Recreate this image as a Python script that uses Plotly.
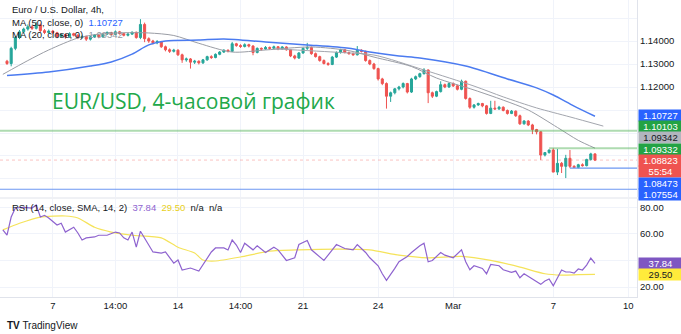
import plotly.graph_objects as go
from plotly.subplots import make_subplots

# ---------------- data ----------------
candle_idx = list(range(142))
opens = [1.1312,1.1302,1.1368,1.1415,1.1440,1.1452,1.1462,1.1455,1.1470,1.1445,
         1.1437,1.1443,1.1436,1.1420,1.1428,1.1418,1.1432,1.1425,1.1415,1.1420,
         1.1408,1.1418,1.1426,1.1418,1.1430,1.1437,1.1428,1.1440,1.1432,1.1425,
         1.1430,1.1438,1.1415,1.1472,1.1410,1.1400,1.1392,1.1398,1.1375,1.1362,
         1.1355,1.1360,1.1340,1.1318,1.1322,1.1308,1.1312,1.1305,1.1318,1.1332,
         1.1328,1.1342,1.1352,1.1360,1.1355,1.1388,1.1380,1.1376,1.1384,1.1378,
         1.1350,1.1368,1.1365,1.1372,1.1368,1.1375,1.1366,1.1374,1.1362,1.1335,
         1.1326,1.1348,1.1368,1.1372,1.1345,1.1332,1.1315,1.1302,1.1298,1.1330,
         1.1350,1.1362,1.1350,1.1345,1.1340,1.1360,1.1355,1.1315,1.1300,1.1280,
         1.1235,1.1215,1.1160,1.1175,1.1192,1.1200,1.1215,1.1178,1.1235,1.1245,
         1.1258,1.1274,1.1175,1.1160,1.1180,1.1210,1.1200,1.1215,1.1205,1.1190,
         1.1225,1.1150,1.1112,1.1122,1.1128,1.1118,1.1085,1.1108,1.1105,1.1112,
         1.1098,1.1085,1.1095,1.1075,1.1040,1.1052,1.1035,1.1015,1.1005,1.0904,
         1.0915,1.0926,1.0830,1.0868,1.0855,1.0890,1.0855,1.0850,1.0862,1.0858,
         1.0885,1.0909]
highs = [1.1318,1.1375,1.1422,1.1448,1.1458,1.1472,1.1468,1.1483,1.1476,1.1452,
         1.1450,1.1448,1.1440,1.1433,1.1432,1.1438,1.1436,1.1430,1.1424,1.1423,
         1.1422,1.1430,1.1429,1.1434,1.1442,1.1440,1.1446,1.1444,1.1436,1.1434,
         1.1442,1.1441,1.1495,1.1480,1.1416,1.1405,1.1404,1.1400,1.1380,1.1368,
         1.1366,1.1364,1.1345,1.1328,1.1326,1.1318,1.1316,1.1322,1.1336,1.1338,
         1.1346,1.1356,1.1364,1.1363,1.1396,1.1392,1.1386,1.1390,1.1388,1.1382,
         1.1372,1.1372,1.1378,1.1376,1.1380,1.1378,1.1378,1.1377,1.1365,1.1340,
         1.1352,1.1372,1.1392,1.1376,1.1350,1.1336,1.1320,1.1308,1.1335,1.1355,
         1.1366,1.1365,1.1354,1.1350,1.1378,1.1364,1.1358,1.1320,1.1305,1.1284,
         1.1240,1.1220,1.1180,1.1196,1.1205,1.1220,1.1218,1.1240,1.1250,1.1262,
         1.1282,1.1276,1.1180,1.1184,1.1225,1.1215,1.1220,1.1220,1.1210,1.1232,
         1.1228,1.1155,1.1126,1.1132,1.1131,1.1122,1.1140,1.1140,1.1118,1.1116,
         1.1102,1.1100,1.1098,1.1080,1.1056,1.1056,1.1040,1.1018,1.1008,1.0915,
         1.0928,1.09332,1.0930,1.0874,1.0905,1.0926,1.0860,1.0866,1.0868,1.0888,
         1.0914,1.0912]
lows = [1.1296,1.1290,1.1360,1.1408,1.1432,1.1445,1.1448,1.1450,1.1438,1.1430,
        1.1432,1.1430,1.1412,1.1415,1.1410,1.1414,1.1420,1.1408,1.1410,1.1400,
        1.1402,1.1414,1.1412,1.1415,1.1426,1.1424,1.1425,1.1428,1.1420,1.1420,
        1.1426,1.1410,1.1408,1.1395,1.1392,1.1385,1.1386,1.1370,1.1355,1.1348,
        1.1350,1.1335,1.1305,1.1310,1.1280,1.1300,1.1298,1.1300,1.1314,1.1322,
        1.1325,1.1338,1.1348,1.1350,1.1352,1.1375,1.1370,1.1372,1.1372,1.1338,
        1.1346,1.1358,1.1362,1.1362,1.1365,1.1360,1.1362,1.1358,1.1330,1.1320,
        1.1322,1.1344,1.1360,1.1340,1.1328,1.1310,1.1298,1.1292,1.1295,1.1326,
        1.1345,1.1346,1.1340,1.1336,1.1337,1.1350,1.1310,1.1295,1.1275,1.1228,
        1.1208,1.1106,1.1135,1.1168,1.1185,1.1194,1.1172,1.1174,1.1230,1.1240,
        1.1254,1.1130,1.1152,1.1156,1.1176,1.1195,1.1196,1.1200,1.1185,1.1186,
        1.1145,1.1105,1.1106,1.1118,1.1112,1.1080,1.1082,1.1100,1.1100,1.1094,
        1.1080,1.1082,1.1070,1.1035,1.1036,1.1030,1.0995,1.0994,1.0883,1.0898,
        1.0910,1.0912,1.0817,1.0826,1.0804,1.08473,1.0848,1.0846,1.0854,1.0855,
        1.0880,1.0878]
closes = [1.1302,1.1368,1.1415,1.1440,1.1452,1.1462,1.1455,1.1470,1.1445,1.1437,
          1.1443,1.1436,1.1420,1.1428,1.1418,1.1432,1.1425,1.1415,1.1420,1.1408,
          1.1418,1.1426,1.1418,1.1430,1.1437,1.1428,1.1440,1.1432,1.1425,1.1430,
          1.1438,1.1415,1.1472,1.1410,1.1400,1.1392,1.1398,1.1375,1.1362,1.1355,
          1.1360,1.1340,1.1318,1.1322,1.1308,1.1312,1.1305,1.1318,1.1332,1.1328,
          1.1342,1.1352,1.1360,1.1355,1.1388,1.1380,1.1376,1.1384,1.1378,1.1350,
          1.1368,1.1365,1.1372,1.1368,1.1375,1.1366,1.1374,1.1362,1.1335,1.1326,
          1.1348,1.1368,1.1372,1.1345,1.1332,1.1315,1.1302,1.1298,1.1330,1.1350,
          1.1362,1.1350,1.1345,1.1340,1.1360,1.1355,1.1315,1.1300,1.1280,1.1235,
          1.1215,1.1160,1.1175,1.1192,1.1200,1.1215,1.1178,1.1235,1.1245,1.1258,
          1.1274,1.1175,1.1160,1.1180,1.1210,1.1200,1.1215,1.1205,1.1190,1.1225,
          1.1150,1.1112,1.1122,1.1128,1.1118,1.1085,1.1108,1.1105,1.1112,1.1098,
          1.1085,1.1095,1.1075,1.1040,1.1052,1.1035,1.1015,1.1005,1.0904,1.0915,
          1.0926,1.0830,1.0868,1.0855,1.0890,1.0855,1.0850,1.0862,1.0858,1.0885,
          1.0909,1.08823]

ma50_idx = [0, 10, 20, 25, 30, 34, 38, 46, 52, 62, 72, 82, 87, 94, 99, 110, 120, 127, 131, 136, 141]
ma50_val = [1.1250, 1.1265, 1.1291, 1.1309, 1.1343, 1.1383, 1.1400, 1.1404, 1.1409, 1.1396,
            1.1383, 1.1368, 1.1352, 1.1335, 1.1326, 1.1291, 1.1235, 1.1196, 1.1165, 1.1117, 1.10727]

ma20_idx = [-1, 5, 10, 17, 22, 28, 34, 40, 46, 54, 62, 73, 82, 88, 97, 103, 112, 119, 125, 132, 137, 141]
ma20_val = [1.1255, 1.1315, 1.1361, 1.1413, 1.1430, 1.1436, 1.1435, 1.1424, 1.1390, 1.1352,
            1.1361, 1.1374, 1.1358, 1.1330, 1.1289, 1.1239, 1.1187, 1.1143, 1.1100, 1.1024,
            1.0968, 1.09342]

grey2_idx = [64, 80, 88, 100, 112, 119, 127, 135, 143]
grey2_val = [1.1366, 1.1350, 1.1339, 1.1274, 1.1204, 1.1157, 1.1109, 1.1070, 1.1030]

rsi_idx = [-1, 0, 1, 2, 4, 6, 7, 8, 9, 10, 12, 13, 14, 16, 17, 18, 19, 21, 22, 24,
           26, 27, 28, 29, 30, 31, 32, 33, 35, 37, 38, 40, 41, 42, 44, 46, 47, 49, 50, 52,
           53, 54, 55, 56, 57, 59, 60, 62, 64, 65, 67, 69, 70, 72, 73, 75, 76, 78, 79, 81,
           83, 84, 86, 87, 89, 90, 91, 93, 94, 96, 97, 99, 100, 101, 102, 104, 105, 107, 109, 110,
           111, 112, 114, 115, 116, 118, 119, 121, 122, 123, 124, 126, 128, 129, 130, 131, 132, 133, 134, 135,
           136, 137, 138, 139, 140, 141]
rsi_val = [63, 59, 72.7, 79.5, 80, 79.5, 81.8, 72.7, 74, 72, 66.7, 68, 61.4, 65, 60.7, 55.4, 57, 57.7, 59, 59,
           61.4, 60.7, 57, 55.4, 61.4, 50, 62, 57, 46.4, 45.6, 46.4, 38, 40.3, 32.8, 34.3, 32, 36.6, 46.4, 49.4, 49.4,
           47.9, 55.4, 51.6, 46, 53, 48, 51, 46, 50, 48, 40, 42, 52, 55, 48, 43, 40, 48, 52, 49,
           48, 52, 46, 42, 36, 30, 25, 34, 39, 43, 46, 51, 53, 39, 40, 46, 44, 42, 48, 39,
           33, 36, 34, 30, 37, 36, 33, 31, 32, 27, 30, 26, 22, 24.5, 26, 21, 26.8, 32.8, 31.3, 31.3,
           30.5, 33.6, 32.8, 36.5, 41.8, 37.84]

sma_idx = [-1, 3, 8, 14, 17, 21, 25, 30, 37, 41, 45, 47, 50, 56, 63, 70, 80, 87, 94, 101, 109, 116, 123, 129, 133, 137, 141]
sma_val = [63, 68, 72.7, 73.5, 72, 65, 61.4, 59, 57, 50, 45.6, 40.3, 39.6, 42.6, 47, 48, 48.5, 48, 44, 42, 43, 40, 35, 30, 29, 29.3, 29.5]

tick_idx = [11, 26, 41, 56, 71, 89, 107, 131, 149]
tick_text = ["7", "14:00", "14", "14:00", "21", "24", "Mar", "7", "10"]

price_grid = [1.08, 1.09, 1.10, 1.11, 1.12, 1.13, 1.14, 1.15]
price_text = ["", "", "", "", "1.12000", "1.13000", "1.14000", ""]
rsi_grid = [20, 40, 60, 80]
rsi_text = ["20.00", "", "60.00", "80.00"]

# drawn levels
level_full_green = 1.10103
level_full_blue = 1.07554
ray_green = (130, 1.09332)
ray_blue = (135, 1.08473)
last_price = 1.08823
countdown = "55:54"
ma50_last = 1.10727
ma20_last = 1.09342
rsi_last = 37.84
rsi_sma_last = 29.50

# ---------------- layout constants ----------------
W, H = 681, 334
PLOT_W, PLOT_H = 637, 297
X_MIN, X_MAX = -1.68, 151.08
Y_MIN, Y_MAX = 1.07217, 1.15783
R_MIN, R_MAX = 12.47, 86.29
FONT = "Liberation Sans"
TXT = "#131722"
GREEN_UP = "#26a69a"
RED_DN = "#ef5350"
BLUE = "#2962ff"
GRID = "#f0f3fa"

def px_x(p):
    return p / PLOT_W

def px_y(p):
    return (PLOT_H - p) / PLOT_H

fig = make_subplots(rows=2, cols=1, shared_xaxes=True, vertical_spacing=0.01)

fig.add_trace(go.Candlestick(
    x=candle_idx, open=opens, high=highs, low=lows, close=closes,
    increasing=dict(line=dict(color=GREEN_UP, width=1), fillcolor=GREEN_UP),
    decreasing=dict(line=dict(color=RED_DN, width=1), fillcolor=RED_DN),
    whiskerwidth=0, showlegend=False, hoverinfo="skip"), row=1, col=1)

fig.add_trace(go.Scatter(x=grey2_idx, y=grey2_val, mode="lines",
                         line=dict(color="#a3a6ae", width=1, shape="spline", smoothing=0.8),
                         showlegend=False, hoverinfo="skip"), row=1, col=1)
fig.add_trace(go.Scatter(x=ma20_idx, y=ma20_val, mode="lines",
                         line=dict(color="#9a9da5", width=1, shape="spline", smoothing=0.8),
                         showlegend=False, hoverinfo="skip"), row=1, col=1)
fig.add_trace(go.Scatter(x=ma50_idx, y=ma50_val, mode="lines",
                         line=dict(color="#4b7bf0", width=1.5, shape="spline", smoothing=0.8),
                         showlegend=False, hoverinfo="skip"), row=1, col=1)

# horizontal drawings
fig.add_trace(go.Scatter(x=[X_MIN, X_MAX], y=[level_full_green] * 2, mode="lines",
                         line=dict(color="rgba(76,175,80,0.45)", width=2),
                         showlegend=False, hoverinfo="skip"), row=1, col=1)
fig.add_trace(go.Scatter(x=[ray_green[0], X_MAX], y=[ray_green[1]] * 2, mode="lines",
                         line=dict(color="rgba(76,175,80,0.45)", width=2),
                         showlegend=False, hoverinfo="skip"), row=1, col=1)
fig.add_trace(go.Scatter(x=[ray_blue[0], X_MAX], y=[ray_blue[1]] * 2, mode="lines",
                         line=dict(color="#6d97f2", width=1.2),
                         showlegend=False, hoverinfo="skip"), row=1, col=1)
fig.add_trace(go.Scatter(x=[X_MIN, X_MAX], y=[level_full_blue] * 2, mode="lines",
                         line=dict(color="#6d97f2", width=1.2),
                         showlegend=False, hoverinfo="skip"), row=1, col=1)
fig.add_trace(go.Scatter(x=[X_MIN, X_MAX], y=[last_price] * 2, mode="lines",
                         line=dict(color="rgba(239,83,80,0.35)", width=1, dash="dot"),
                         showlegend=False, hoverinfo="skip"), row=1, col=1)

# RSI pane
fig.add_hrect(y0=30, y1=70, row=2, col=1, fillcolor="rgba(126,87,194,0.09)", line_width=0, layer="below")
for lvl in (70, 50, 30):
    fig.add_hline(y=lvl, row=2, col=1, line=dict(color="#b6b8c0", width=1, dash="dot"))
fig.add_trace(go.Scatter(x=sma_idx, y=sma_val, mode="lines",
                         line=dict(color="#f5e35a", width=1.2, shape="spline", smoothing=0.6),
                         showlegend=False, hoverinfo="skip"), row=2, col=1)
fig.add_trace(go.Scatter(x=rsi_idx, y=rsi_val, mode="lines",
                         line=dict(color="#8e63cf", width=1.2),
                         showlegend=False, hoverinfo="skip"), row=2, col=1)

axis_font = dict(family=FONT, size=9.5, color=TXT)
fig.update_layout(
    width=W, height=H, autosize=False,
    margin=dict(l=0, r=W - PLOT_W, t=0, b=H - PLOT_H),
    paper_bgcolor="white", plot_bgcolor="white",
    font=dict(family=FONT, size=9.5, color=TXT),
    showlegend=False,
    xaxis=dict(range=[X_MIN, X_MAX], domain=[0, 1], rangeslider=dict(visible=False),
               tickvals=tick_idx, ticktext=tick_text, showticklabels=False,
               showgrid=True, gridcolor=GRID, zeroline=False, showline=False),
    xaxis2=dict(range=[X_MIN, X_MAX], domain=[0, 1], rangeslider=dict(visible=False),
                tickvals=tick_idx, ticktext=tick_text, showticklabels=True, tickfont=axis_font,
                ticks="", showgrid=True, gridcolor=GRID, zeroline=False,
                showline=True, linecolor="#e0e3eb", linewidth=1),
    yaxis=dict(range=[Y_MIN, Y_MAX], domain=[px_y(197), 1], side="right",
               tickvals=price_grid, ticktext=price_text, tickfont=axis_font, ticks="",
               showgrid=True, gridcolor=GRID, zeroline=False,
               showline=True, linecolor="#e0e3eb", linewidth=1),
    yaxis2=dict(range=[R_MIN, R_MAX], domain=[0, px_y(199)], side="right",
                tickvals=rsi_grid, ticktext=rsi_text, tickfont=axis_font, ticks="",
                showgrid=True, gridcolor=GRID, zeroline=False,
                showline=True, linecolor="#e0e3eb", linewidth=1),
)

# pane separator
fig.add_shape(type="line", xref="paper", yref="paper", x0=0, x1=W / PLOT_W,
              y0=px_y(198), y1=px_y(198), line=dict(color="#e0e3eb", width=1))

ann = []
def txt(x, y, text, size=9.5, color=TXT, family=FONT, xanchor="left"):
    ann.append(dict(x=px_x(x), y=px_y(y), xref="paper", yref="paper", text=text,
                    showarrow=False, xanchor=xanchor, yanchor="middle",
                    font=dict(family=family, size=size, color=color)))

txt(10, 10, "Euro / U.S. Dollar, 4h,")
txt(10, 22, "MA (50, close, 0)&nbsp;&nbsp;<span style='color:%s'>%.5f</span>" % (BLUE, ma50_last))
txt(10, 34, "MA (20, close, 0)&nbsp;&nbsp;<span style='color:#9598a1'>%.5f</span>" % ma20_last)
txt(10, 208, "RSI (14, close, SMA, 14, 2)&nbsp;&nbsp;<span style='color:#8e63cf'>%.2f</span>&nbsp;&nbsp;"
             "<span style='color:#e8cf1a'>%.2f</span>&nbsp;&nbsp;n/a&nbsp;&nbsp;n/a" % (rsi_last, rsi_sma_last))
txt(50, 101, "EUR/USD, 4-часовой график", size=21, color="#22a84a", family="Open Sans")
txt(5, 325, "<b>TV</b> TradingView", size=10, color=TXT)

def price_label(text, val, bg, fg, shift, yref="y"):
    ann.append(dict(x=1, xref="paper", y=val, yref=yref, text=text, showarrow=False,
                    xanchor="left", yanchor="middle", xshift=1, yshift=shift,
                    bgcolor=bg, borderpad=0, width=43, height=10.5, align="center",
                    valign="middle", font=dict(family=FONT, size=9.5, color=fg)))

price_label("%.5f" % ma50_last, ma50_last, BLUE, "white", 1)
price_label("%.5f" % level_full_green, level_full_green, "#23a344", "white", 4.5)
price_label("%.5f" % ma20_last, ma20_last, "#b2b5be", TXT, 11)
price_label("%.5f" % ray_green[1], ray_green[1], "#23a344", "white", -1.5)
price_label("%.5f" % last_price, last_price, RED_DN, "white", -0.5)
price_label(countdown, last_price, RED_DN, "white", -11.5)
price_label("%.5f" % ray_blue[1], ray_blue[1], BLUE, "white", -15.5)
price_label("%.5f" % level_full_blue, level_full_blue, BLUE, "white", -5.5)
price_label("%.2f" % rsi_last, rsi_last, "#7e57c2", "white", 0, yref="y2")
price_label("%.2f" % rsi_sma_last, rsi_sma_last, "#ffeb3b", TXT, 0, yref="y2")

fig.update_layout(annotations=ann)
fig.write_html("out.html")
